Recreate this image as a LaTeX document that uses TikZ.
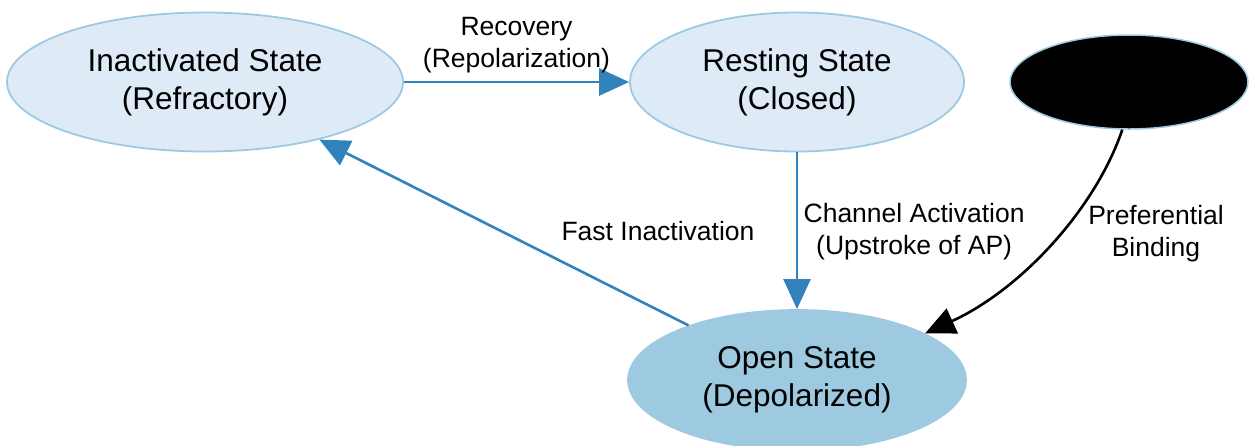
\documentclass[tikz,border=0pt]{standalone}
\usepackage{fontspec}
\setmainfont{Liberation Sans}
\usetikzlibrary{shapes.geometric,arrows.meta}
\definecolor{lightfill}{HTML}{DEEBF7}
\definecolor{edgeblue}{HTML}{9ECAE1}
\definecolor{arrowblue}{HTML}{3182BD}
\tikzset{
  statenode/.style={ellipse, draw=edgeblue, line width=1.8pt, fill=lightfill, inner sep=0pt,
    align=center, font=\fontsize{31.5}{38}\selectfont},
  opennode/.style={statenode, draw=edgeblue, fill=edgeblue},
  blacknode/.style={ellipse, draw=edgeblue, line width=1.5pt, fill=black, inner sep=0pt},
  bluearrow/.style={draw=arrowblue, line width=2.6pt, -{Triangle[length=30pt,width=27pt]}},
  blackarrow/.style={draw=black, line width=2.6pt, -{Triangle[length=30pt,width=27pt]}},
  elabel/.style={font=\fontsize{26.5}{32}\selectfont, align=center, text=black},
}
\begin{document}
\begin{tikzpicture}[x=1pt,y=-1pt]
\useasboundingbox (0,0) rectangle (1249,445);
\node[statenode, minimum width=396pt, minimum height=139pt] (inact) at (205,82) {Inactivated State\\(Refractory)};
\node[statenode, minimum width=334pt, minimum height=139pt] (rest) at (797,82) {Resting State\\(Closed)};
\node[blacknode, minimum width=238pt, minimum height=94pt] (blk) at (1129,82) {};
\node[opennode, minimum width=338pt, minimum height=140pt] (open) at (797,380) {Open State\\(Depolarized)};

\draw[bluearrow] (inact) -- node[elabel, midway, yshift=37pt] {Recovery\\(Repolarization)} (rest);
\draw[bluearrow] (rest) -- node[elabel, midway, right=2pt, yshift=-1pt] {Channel Activation\\(Upstroke of AP)} (open);
\draw[bluearrow] (open) -- node[elabel, midway, xshift=154pt, yshift=1pt] {Fast Inactivation} (inact);
\draw[blackarrow] (blk.-98) .. controls (1095,210) and (1020,290) .. node[elabel, pos=0.45, xshift=97pt, yshift=1pt] {Preferential\\Binding} (open.20);
\end{tikzpicture}
\end{document}
